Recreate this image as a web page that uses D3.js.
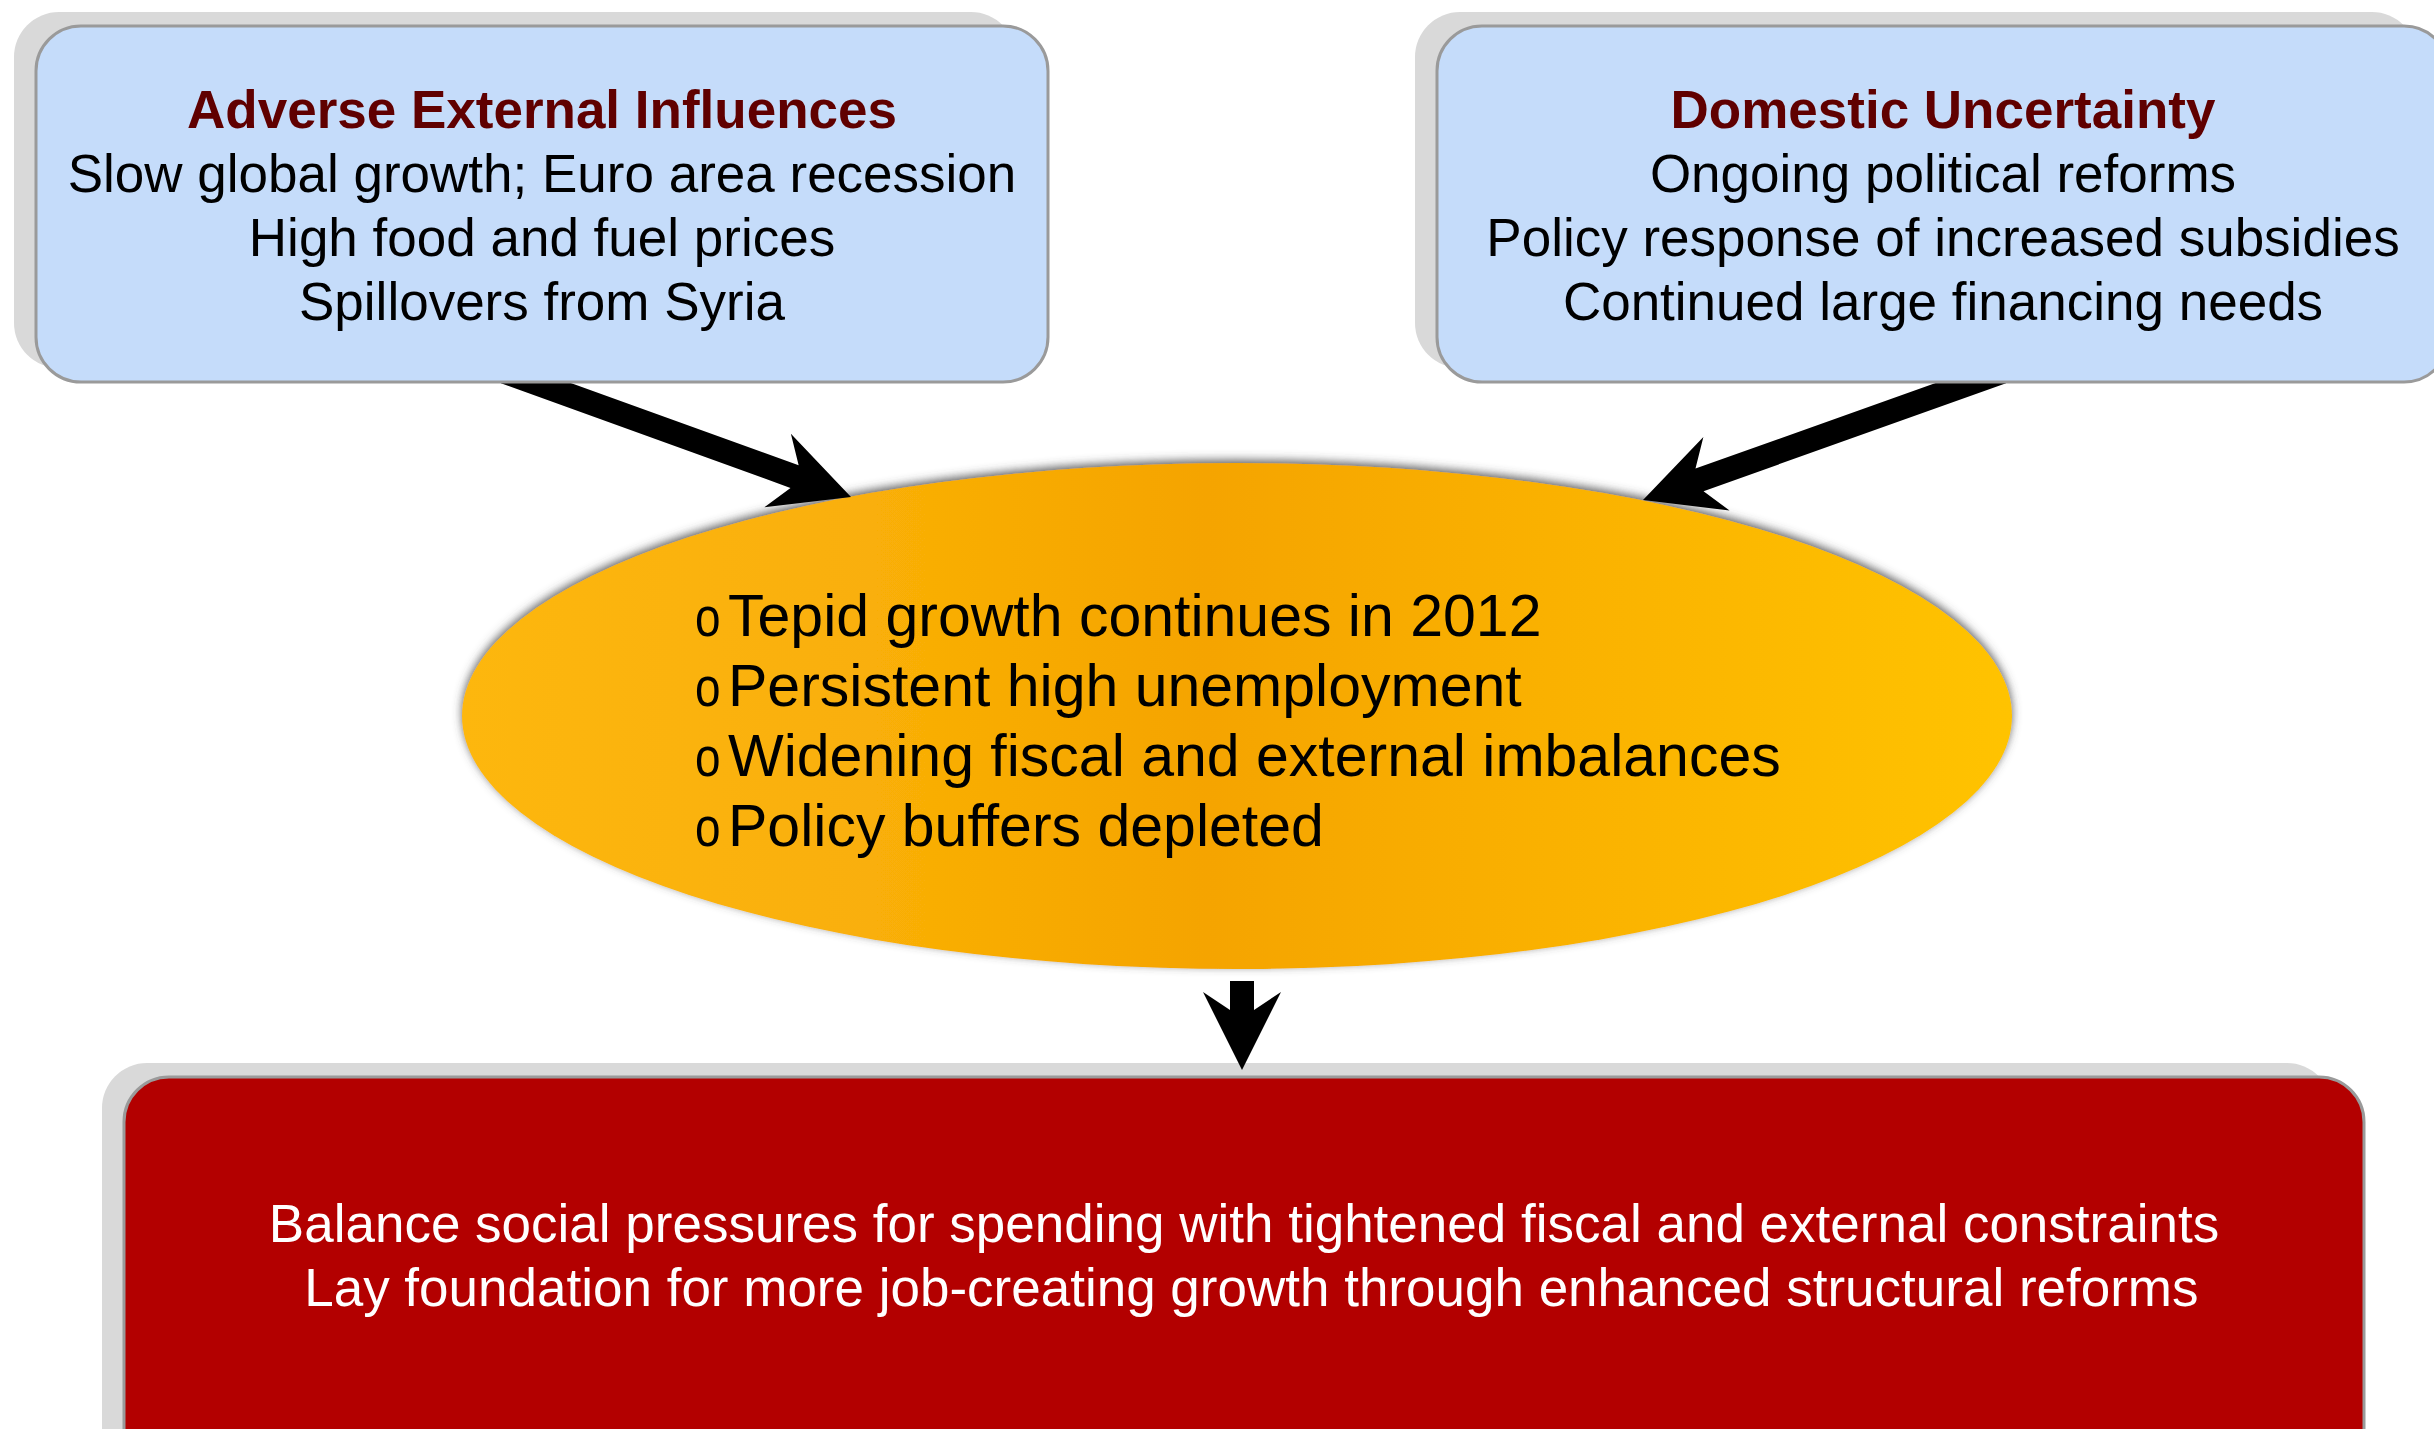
<!DOCTYPE html>
<meta charset="utf-8">
<head>
<script src="https://d3js.org/d3.v7.min.js"></script>
<style>
  body { margin: 0; background: #fff; }
  text { font-family: "Liberation Sans", Arial, sans-serif; white-space: pre; }
</style>
</head>
<body>
<div id="chart"></div>
<script>
  // texts of the diagram
  var externalTitle = "Adverse External Influences";
  var externalLines = ["Slow global growth; Euro area recession", "High food and fuel prices", "Spillovers from Syria"];
  var domesticTitle = "Domestic Uncertainty";
  var domesticLines = ["Ongoing political reforms", "Policy response of increased subsidies", "Continued large financing needs"];
  var outlookBullets = ["Tepid growth continues in 2012", "Persistent high unemployment", "Widening fiscal and external imbalances", "Policy buffers depleted"];
  var challengeLines = ["Balance social pressures for spending with tightened fiscal and external constraints",
                        " Lay foundation for more job-creating growth through enhanced structural reforms"];

  var width = 2434, height = 1429;

  var svg = d3.select("#chart").append("svg")
      .attr("width", width)
      .attr("height", height);

  var defs = svg.append("defs");

  var grad = defs.append("linearGradient").attr("id", "orange")
      .attr("x1", "0%").attr("x2", "100%").attr("y1", "0%").attr("y2", "0%");
  [[0, "#fdb70f"], [0.3, "#f9ae06"], [0.48, "#f5a400"], [0.7, "#fab104"], [1, "#ffc300"]].forEach(function (s) {
    grad.append("stop").attr("offset", s[0]).attr("stop-color", s[1]);
  });

  var glow = defs.append("filter").attr("id", "glow")
      .attr("x", "-10%").attr("y", "-20%").attr("width", "120%").attr("height", "140%");
  glow.append("feDropShadow")
      .attr("dx", 0).attr("dy", -3)
      .attr("stdDeviation", 5)
      .attr("flood-color", "#444")
      .attr("flood-opacity", 0.85);

  var leftBox = {x: 36, y: 26, w: 1012, h: 356},
      rightBox = {x: 1437, y: 26, w: 1012, h: 356},
      bottomBox = {x: 124, y: 1077, w: 2240, h: 420};

  // gray shadows behind boxes
  [leftBox, rightBox, bottomBox].forEach(function (b) {
    svg.append("rect")
        .attr("x", b.x - 22).attr("y", b.y - 14)
        .attr("width", b.w - 10).attr("height", b.h)
        .attr("rx", 45).attr("ry", 45)
        .attr("fill", "#d9d9d9");
  });

  // ellipse
  svg.append("ellipse")
      .attr("cx", 1237).attr("cy", 716)
      .attr("rx", 775).attr("ry", 253)
      .attr("fill", "url(#orange)")
      .attr("filter", "url(#glow)");

  // arrows
  function arrow(s, t) {
    var dx = t[0] - s[0], dy = t[1] - s[1], len = Math.sqrt(dx * dx + dy * dy);
    var u = [dx / len, dy / len], n = [-u[1], u[0]];
    var w = 12, L = 78, H = 39, N = 60;
    function p(a, b) { return [t[0] + u[0] * a + n[0] * b, t[1] + u[1] * a + n[1] * b]; }
    return [p(-len, w), p(-N, w), p(-L, H), p(0, 0), p(-L, -H), p(-N, -w), p(-len, -w)];
  }
  var line = d3.line();
  [[[505, 372], [851, 497]], [[2002, 372], [1643, 500]], [[1242, 981], [1242, 1070]]].forEach(function (a) {
    svg.append("path")
        .attr("d", line(arrow(a[0], a[1])) + "Z")
        .attr("fill", "#000");
  });

  // boxes
  [[leftBox, "#c5dcfa"], [rightBox, "#c5dcfa"], [bottomBox, "#b30000"]].forEach(function (d) {
    var b = d[0];
    svg.append("rect")
        .attr("x", b.x).attr("y", b.y)
        .attr("width", b.w).attr("height", b.h)
        .attr("rx", 45).attr("ry", 45)
        .attr("fill", d[1])
        .attr("stroke", "#9a9a9a")
        .attr("stroke-width", 3);
  });

  var rowY = d3.scaleLinear().domain([0, 1]).range([128, 192]);

  function boxText(b, title, lines) {
    var cx = b.x + b.w / 2;
    svg.append("text")
        .attr("x", cx).attr("y", rowY(0))
        .attr("text-anchor", "middle")
        .attr("font-size", 53).attr("font-weight", "bold")
        .attr("fill", "#600000")
        .text(title);
    svg.selectAll(null)
        .data(lines)
        .enter().append("text")
        .attr("x", cx)
        .attr("y", function (d, i) { return rowY(i + 1); })
        .attr("text-anchor", "middle")
        .attr("font-size", 53)
        .attr("fill", "#000")
        .text(function (d) { return d; });
  }
  boxText(leftBox, externalTitle, externalLines);
  boxText(rightBox, domesticTitle, domesticLines);

  var bulletY = d3.scaleLinear().domain([0, 1]).range([636, 706]);
  var bullets = svg.selectAll(".bullet")
      .data(outlookBullets)
      .enter().append("g").attr("class", "bullet");
  bullets.append("text")
      .attr("transform", function (d, i) { return "translate(695," + bulletY(i) + ") scale(0.82,1)"; })
      .attr("font-size", 56)
      .text("o");
  bullets.append("text")
      .attr("x", 728)
      .attr("y", function (d, i) { return bulletY(i); })
      .attr("font-size", 59)
      .text(function (d) { return d; });

  var bottomY = d3.scaleLinear().domain([0, 1]).range([1242, 1306]);
  svg.selectAll(".challenge")
      .data(challengeLines)
      .enter().append("text").attr("class", "challenge")
      .attr("x", 1244)
      .attr("y", function (d, i) { return bottomY(i); })
      .attr("text-anchor", "middle")
      .attr("font-size", 53)
      .attr("fill", "#fff")
      .text(function (d) { return d; });
</script>
</body>
